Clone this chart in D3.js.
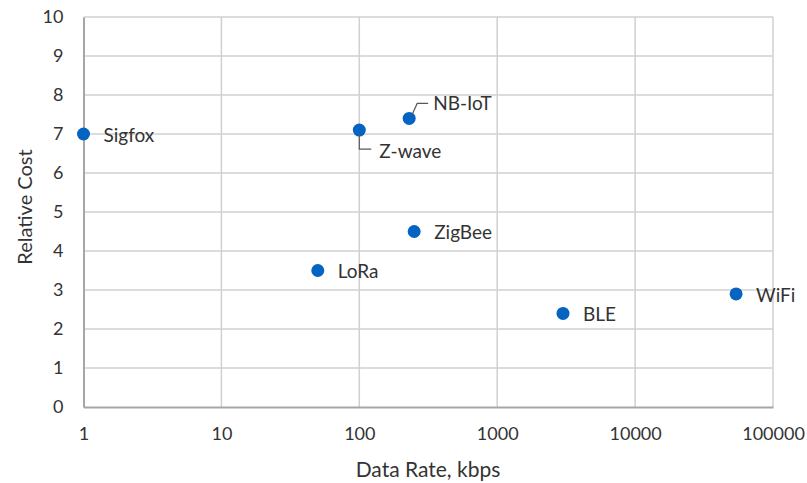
<!DOCTYPE html>
<html>
<head>
<meta charset="utf-8">
<script src="https://cdn.jsdelivr.net/npm/d3@7"></script>
<style>
  body { margin: 0; background: #fff; }
  text { font-family: Lato, "Open Sans", sans-serif; fill: #333; }
</style>
</head>
<body>
<script>
// chart data
const techs = ["Sigfox", "Z-wave", "NB-IoT", "ZigBee", "LoRa", "BLE", "WiFi"]
const rates = [1, 100, 230, 250, 50, 3000, 54000]
const costs = [7, 7.1, 7.4, 4.5, 3.5, 2.4, 2.9]
const xTicks = [1, 10, 100, 1000, 10000, 100000]
const yTicks = [0, 1, 2, 3, 4, 5, 6, 7, 8, 9, 10]

const svgWidth = 807, svgHeight = 483
const margin = {top: 17, right: 34, bottom: 76, left: 83.5}
const gWidth = svgWidth - margin.left - margin.right
const gHeight = svgHeight - margin.top - margin.bottom

const svg = d3.select("body").append("svg")
  .attr("width", svgWidth)
  .attr("height", svgHeight)

const g = svg.append("g")
  .attr("transform", "translate(" + margin.left + "," + margin.top + ")")

const xScale = d3.scaleLog().domain([1, 100000]).range([0, gWidth])
const yScale = d3.scaleLinear().domain([0, 10]).range([gHeight, 0])

// gridlines
g.selectAll(".hgrid").data(yTicks.slice(1)).enter()
  .append("line")
  .attr("x1", 0).attr("x2", gWidth)
  .attr("y1", d => yScale(d)).attr("y2", d => yScale(d))
  .attr("stroke", "#d0d0d0").attr("stroke-width", 1.5)

g.selectAll(".vgrid").data(xTicks.slice(1)).enter()
  .append("line")
  .attr("x1", d => xScale(d)).attr("x2", d => xScale(d))
  .attr("y1", 0).attr("y2", gHeight)
  .attr("stroke", "#d0d0d0").attr("stroke-width", 1.5)

// axes
const xAxis = d3.axisBottom(xScale).tickValues(xTicks).tickFormat(d3.format("d")).tickSize(0).tickPadding(20)
const yAxis = d3.axisLeft(yScale).tickValues(yTicks).tickSize(0).tickPadding(20)

const gx = g.append("g").attr("transform", "translate(0," + gHeight + ")").call(xAxis)
gx.select(".domain").attr("stroke", "#a6a6a6").attr("stroke-width", 2)
gx.selectAll("text").style("font-size", "18px").style("font-family", "Lato, sans-serif")

const gy = g.append("g").call(yAxis)
gy.select(".domain").attr("stroke", "#a6a6a6").attr("stroke-width", 2)
gy.selectAll("text").style("font-size", "18px").style("font-family", "Lato, sans-serif")

// axis titles
svg.append("text")
  .attr("x", 428).attr("y", 477)
  .attr("text-anchor", "middle")
  .style("font-size", "21px")
  .text("Data Rate, kbps")

svg.append("text")
  .attr("transform", "translate(32,207) rotate(-90)")
  .attr("text-anchor", "middle")
  .style("font-size", "20px")
  .text("Relative Cost")

// points
const pts = techs.map((t, i) => ({name: t, x: rates[i], y: costs[i]}))

g.selectAll("circle").data(pts).enter()
  .append("circle")
  .attr("cx", d => xScale(d.x))
  .attr("cy", d => yScale(d.y))
  .attr("r", 6.5)
  .attr("fill", "#0563c1")

// labels, two of them have leader lines
g.selectAll(".lbl").data(pts).enter()
  .append("text")
  .attr("class", "lbl")
  .attr("x", d => {
    if (d.name == "NB-IoT") return xScale(d.x) + 24
    return xScale(d.x) + 20
  })
  .attr("y", d => {
    if (d.name == "NB-IoT") return yScale(d.y) - 15
    if (d.name == "Z-wave") return yScale(d.y) + 21
    return yScale(d.y) + 1
  })
  .attr("dy", "0.35em")
  .style("font-size", "19px")
  .text(d => d.name)

const nb = pts[2], zw = pts[1]
g.append("path")
  .attr("d", "M" + (xScale(nb.x) + 3) + "," + (yScale(nb.y) - 4) +
    "L" + (xScale(nb.x) + 8) + "," + (yScale(nb.y) - 15) +
    "L" + (xScale(nb.x) + 19) + "," + (yScale(nb.y) - 15))
  .attr("fill", "none").attr("stroke", "#595959").attr("stroke-width", 1.2)

g.append("path")
  .attr("d", "M" + xScale(zw.x) + "," + (yScale(zw.y) + 4) +
    "L" + xScale(zw.x) + "," + (yScale(zw.y) + 19) +
    "L" + (xScale(zw.x) + 12) + "," + (yScale(zw.y) + 19))
  .attr("fill", "none").attr("stroke", "#595959").attr("stroke-width", 1.2)
</script>
</body>
</html>
